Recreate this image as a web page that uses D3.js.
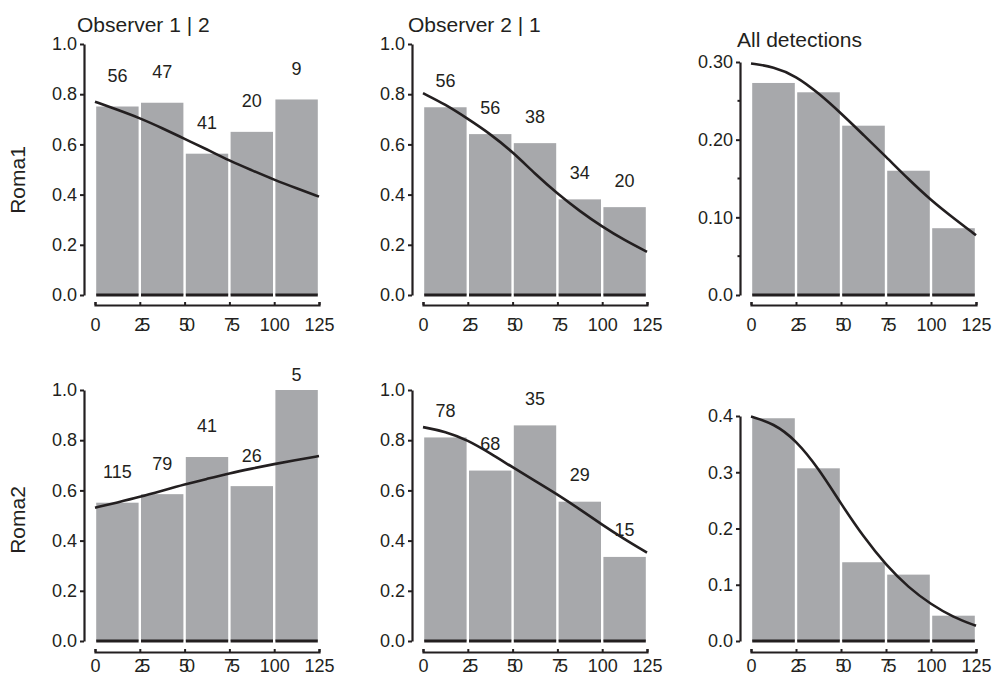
<!DOCTYPE html>
<html>
<head>
<meta charset="utf-8">
<script src="https://cdn.jsdelivr.net/npm/d3@7"></script>
<style>
  html, body { margin: 0; padding: 0; background: #fff; }
  svg text { font-family: "Liberation Sans", Arial, Helvetica, sans-serif; fill: #231f20; }
</style>
</head>
<body>
<div id="chart"></div>
<script>
// detection histograms with fitted curves, 2 sites x 3 views

// === data ===
const binEdges = [0, 25, 50, 75, 100, 125];
const xTickValues = [0, 25, 50, 75, 100, 125];
const curveX = [0, 12.5, 25, 37.5, 50, 62.5, 75, 87.5, 100, 112.5, 125];

const rowNames = ["Roma1", "Roma2"];
const colTitles = ["Observer 1 | 2", "Observer 2 | 1", "All detections"];

// Roma1
const roma1Obs12Bars   = [0.751, 0.766, 0.563, 0.650, 0.779];
const roma1Obs12Counts = [56, 47, 41, 20, 9];
const roma1Obs12Curve  = [0.770, 0.738, 0.705, 0.665, 0.622, 0.580, 0.535, 0.497, 0.459, 0.425, 0.392];

const roma1Obs21Bars   = [0.748, 0.641, 0.605, 0.381, 0.350];
const roma1Obs21Counts = [56, 56, 38, 34, 20];
const roma1Obs21Curve  = [0.804, 0.759, 0.702, 0.642, 0.570, 0.483, 0.404, 0.334, 0.272, 0.218, 0.172];

const roma1AllBars  = [0.273, 0.261, 0.218, 0.160, 0.086];
const roma1AllCurve = [0.298, 0.294, 0.282, 0.260, 0.234, 0.206, 0.178, 0.149, 0.122, 0.099, 0.077];

// Roma2
const roma2Obs12Bars   = [0.551, 0.585, 0.733, 0.617, 1.0];
const roma2Obs12Counts = [115, 79, 41, 26, 5];
const roma2Obs12Curve  = [0.531, 0.552, 0.574, 0.599, 0.624, 0.646, 0.668, 0.687, 0.705, 0.721, 0.737];

const roma2Obs21Bars   = [0.811, 0.679, 0.859, 0.555, 0.335];
const roma2Obs21Counts = [78, 68, 35, 29, 15];
const roma2Obs21Curve  = [0.852, 0.835, 0.800, 0.748, 0.692, 0.638, 0.584, 0.525, 0.463, 0.405, 0.352];

const roma2AllBars  = [0.396, 0.307, 0.140, 0.118, 0.045];
const roma2AllCurve = [0.399, 0.387, 0.357, 0.307, 0.244, 0.185, 0.135, 0.095, 0.065, 0.042, 0.027];

// y axis ticks
const probTicks  = [0, 0.2, 0.4, 0.6, 0.8, 1.0];
const probLabels = ["0.0", "0.2", "0.4", "0.6", "0.8", "1.0"];
const all1Ticks  = [0, 0.10, 0.20, 0.30];
const all1Labels = ["0.0", "0.10", "0.20", "0.30"];
const all1Minor  = [0.05, 0.15, 0.25];
const all2Ticks  = [0, 0.1, 0.2, 0.3, 0.4];
const all2Labels = ["0.0", "0.1", "0.2", "0.3", "0.4"];

// === layout ===
const W = 992, H = 678;
const cols = [
  { axisX: 84,  x0: 95,  x1: 319 },
  { axisX: 412, x0: 423, x1: 647 },
  { axisX: 740, x0: 751, x1: 976 }
];
const rows = [
  { base: 295, xAxisY: 305, pad: 13, labelY: 180 },
  { base: 641, xAxisY: 652, pad: 7,  labelY: 520 }
];
const labelGap = [31, 27];     // count label distance above bar top, per column
const gray = "#a7a8ab", ink = "#231f20";

const svg = d3.select("#chart").append("svg")
  .attr("width", W).attr("height", H);

const panels = [
  { r: 0, c: 0, bars: roma1Obs12Bars, counts: roma1Obs12Counts, curve: roma1Obs12Curve,
    ticks: probTicks, labels: probLabels, top: 44 },
  { r: 0, c: 1, bars: roma1Obs21Bars, counts: roma1Obs21Counts, curve: roma1Obs21Curve,
    ticks: probTicks, labels: probLabels, top: 44 },
  { r: 0, c: 2, bars: roma1AllBars, counts: null, curve: roma1AllCurve,
    ticks: all1Ticks, labels: all1Labels, minor: all1Minor, top: 62 },
  { r: 1, c: 0, bars: roma2Obs12Bars, counts: roma2Obs12Counts, curve: roma2Obs12Curve,
    ticks: probTicks, labels: probLabels, top: 390 },
  { r: 1, c: 1, bars: roma2Obs21Bars, counts: roma2Obs21Counts, curve: roma2Obs21Curve,
    ticks: probTicks, labels: probLabels, top: 390 },
  { r: 1, c: 2, bars: roma2AllBars, counts: null, curve: roma2AllCurve,
    ticks: all2Ticks, labels: all2Labels, top: 416 }
];

function drawPanel(p) {
  const col = cols[p.c], row = rows[p.r];
  const yMax = p.ticks[p.ticks.length - 1];
  const x = d3.scaleLinear().domain([0, 125]).range([col.x0, col.x1]);
  const y = d3.scaleLinear().domain([0, yMax]).range([row.base, p.top]);
  const g = svg.append("g");

  // bars
  const binData = p.bars.map((v, i) => ({ v, a: binEdges[i], b: binEdges[i + 1], n: p.counts ? p.counts[i] : null }));
  g.selectAll("rect.bar").data(binData).enter().append("rect")
    .attr("class", "bar")
    .attr("x", d => x(d.a) + 1.2)
    .attr("width", d => x(d.b) - x(d.a) - 2.4)
    .attr("y", d => y(d.v))
    .attr("height", d => y(0) - y(d.v))
    .attr("fill", gray);

  // black base under each bar
  g.selectAll("line.base").data(binData).enter().append("line")
    .attr("x1", d => x(d.a) + 1.2).attr("x2", d => x(d.b) - 1.2)
    .attr("y1", y(0)).attr("y2", y(0))
    .attr("stroke", ink).attr("stroke-width", 3);

  // fitted curve
  const line = d3.line()
    .x((d, i) => x(curveX[i]))
    .y(d => y(d))
    .curve(d3.curveBasis);
  g.append("path")
    .attr("d", line(p.curve))
    .attr("fill", "none")
    .attr("stroke", ink)
    .attr("stroke-width", 2.6);

  // counts above bars
  if (p.counts) {
    g.selectAll("text.count").data(binData).enter().append("text")
      .attr("x", d => (x(d.a) + x(d.b)) / 2)
      .attr("y", d => Math.max(y(d.v) - labelGap[p.c], y(1) - 15))
      .attr("dy", "0.36em")
      .attr("text-anchor", "middle")
      .style("font-size", "18px")
      .text(d => d.n);
  }

  // y axis
  const yAxis = g.append("g")
    .attr("transform", `translate(${col.axisX},0)`)
    .call(d3.axisLeft(y).tickValues(p.ticks)
      .tickFormat((d, i) => p.labels[i])
      .tickSizeInner(4).tickSizeOuter(0).tickPadding(3));
  if (p.minor) {
    yAxis.selectAll("line.minor").data(p.minor).enter().append("line")
      .attr("class", "minor")
      .attr("x1", -2.5).attr("x2", 0)
      .attr("y1", d => y(d)).attr("y2", d => y(d));
  }

  // x axis
  const xAxis = g.append("g")
    .attr("transform", `translate(0,${row.xAxisY})`)
    .call(d3.axisBottom(x).tickValues(xTickValues)
      .tickFormat(d3.format("d"))
      .tickSizeInner(-3).tickSizeOuter(-3).tickPadding(row.pad));
  xAxis.selectAll(".tick text")
    .style("letter-spacing", d => (d > 0 && d < 100) ? "-4px" : null);

  [yAxis, xAxis].forEach(a => {
    a.select(".domain").attr("stroke", ink).attr("stroke-width", 2.2);
    a.selectAll("line").attr("stroke", ink).attr("stroke-width", 2);
    a.selectAll("text").style("font-size", "18px").attr("fill", ink);
  });
}

panels.forEach(drawPanel);

// column titles
svg.append("text").attr("x", 77).attr("y", 32).style("font-size", "21px").text(colTitles[0]);
svg.append("text").attr("x", 408).attr("y", 32).style("font-size", "21px").text(colTitles[1]);
svg.append("text").attr("x", 737).attr("y", 47).style("font-size", "21px").text(colTitles[2]);

// row labels
rows.forEach((row, i) => {
  svg.append("text")
    .attr("transform", `translate(25,${row.labelY}) rotate(-90)`)
    .attr("text-anchor", "middle")
    .style("font-size", "21px")
    .text(rowNames[i]);
});
</script>
</body>
</html>
